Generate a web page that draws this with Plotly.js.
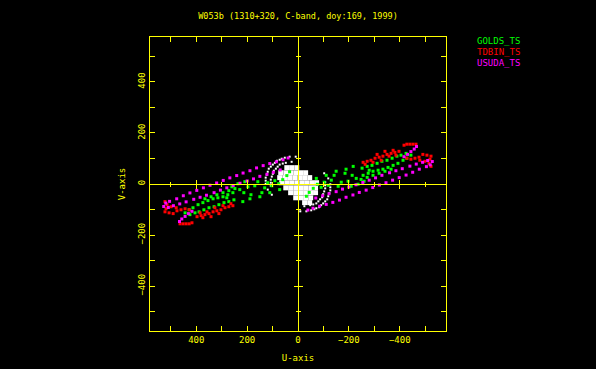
<!DOCTYPE html>
<html><head><meta charset="utf-8">
<script src="https://cdn.plot.ly/plotly-3.0.1.min.js"></script>
<style>html,body{margin:0;padding:0;background:#000;}#plot{width:596px;height:369px;}</style>
</head><body><div id="plot"></div>
<script>
const titleText = 'W053b (1310+320, C-band, doy:169, 1999)';
const xAxisLabel = 'U-axis';
const yAxisLabel = 'V-axis';
const stationNames = ['GOLDS_TS', 'TDBIN_TS', 'USUDA_TS'];
const stationColors = ['#00ff00', '#ff0000', '#ff00ff'];
const majorTickVals = [-400, -200, 0, 200, 400];
const majorTickText = ['\u2212400', '\u2212200', '0', '200', '400'];
const minorTickVals = [-500, -300, -100, 100, 300, 500];

// GOLDS_TS (green) uv points
const goldsU = [444,428,413,393,374,354,334,315,295,276,256,
  425,405,389,370,350,330,311,291,272,252,
  366,342,319,295,272,248,
  229,213,197,185,170,158,142,131,119,103,91,76,60,44,33,209,236,260,280,189,150,111,72,217,
  -444,-428,-413,-393,-374,-354,-334,-315,-295,-276,-256,
  -425,-405,-389,-370,-350,-330,-311,-291,-272,-252,
  -366,-342,-319,-295,-272,-248,
  -229,-213,-197,-185,-170,-158,-142,-131,-119,-103,-91,-76,-60,-44,-33,-209,-236,-260,-280,-189,-150,-111,-72,-217];
const goldsV = [-113,-101,-93,-81,-73,-65,-58,-54,-50,-42,-34,
  -120,-113,-109,-101,-93,-89,-81,-73,-69,-62,
  -58,-50,-42,-34,-26,-18,
  -22,-34,-11,-42,-7,9,-34,-15,5,-7,13,1,17,33,48,9,1,-11,-54,-58,-50,-34,-22,-69,
  113,101,93,81,73,65,58,54,50,42,34,
  120,113,109,101,93,89,81,73,69,62,
  58,50,42,34,26,18,
  22,34,11,42,7,-9,34,15,-5,7,-13,-1,-17,-33,-48,-9,-1,11,54,58,50,34,22,69];

// TDBIN_TS (red) uv points
const tdbinU = [523,515,519,523,507,491,476,460,444,428,499,479,
  464,452,440,428,417,
  397,381,366,350,334,319,303,287,272,256,385,358,327,295,264,374,342,311,
  -523,-515,-519,-523,-507,-491,-476,-460,-444,-428,-499,-479,
  -464,-452,-440,-428,-417,
  -397,-381,-366,-350,-334,-319,-303,-287,-272,-256,-385,-358,-327,-295,-264,-374,-342,-311];
const tdbinV = [-69,-81,-97,-109,-113,-116,-105,-101,-97,-101,-89,-93,
  -156,-156,-156,-156,-152,
  -128,-124,-120,-116,-109,-105,-101,-93,-89,-85,-113,-109,-93,-85,-77,-132,-128,-116,
  69,81,97,109,113,116,105,101,97,101,89,93,
  156,156,156,156,152,
  128,124,120,116,109,105,101,93,89,85,113,109,93,85,77,132,128,116];

// USUDA_TS (magenta) uv points
const usudaU = [520,505,477,451,425,398,372,346,320,294,268,241,216,189,163,137,111,85,59,39,
  510,490,465,440,410,385,360,330,305,280,255,228,200,175,150,122,97,70,
  528,466,457,444,431,417,
  -520,-505,-477,-451,-425,-398,-372,-346,-320,-294,-268,-241,-216,-189,-163,-137,-111,-85,-59,-39,
  -510,-490,-465,-440,-410,-385,-360,-330,-305,-280,-255,-228,-200,-175,-150,-122,-97,-70,
  -528,-466,-457,-444,-431,-417];
const usudaV = [-75,-68,-58,-46,-35,-25,-15,-5,4,14,24,33,43,52,63,72,80,87,95,102,
  -92,-85,-78,-70,-60,-52,-44,-34,-24,-15,-6,3,12,20,30,38,46,55,
  -88,-147,-137,-127,-116,-107,
  75,68,58,46,35,25,15,5,-4,-14,-24,-33,-43,-52,-63,-72,-80,-87,-95,-102,
  92,85,78,70,60,52,44,34,24,15,6,-3,-12,-20,-30,-38,-46,-55,
  88,147,137,127,116,107];

// central white cluster (dense core)
const coreU = [44,25,5,
  68,48,29,9,-11,-30,
  72,52,33,13,-7,-26,-46,
  64,44,25,5,-15,-34,-54,-73,
  48,29,9,-11,-30,-50,-69,
  29,9,-11,-30,-50,-69,
  9,-11,-30,-50,
  -26,-46];
const coreV = [64,64,64,
  44,44,44,44,44,44,
  25,25,25,25,25,25,25,
  5,5,5,5,5,5,5,5,
  -15,-15,-15,-15,-15,-15,-15,
  -34,-34,-34,-34,-34,-34,
  -54,-54,-54,-54,
  -73,-73];
// central white cluster (outer arcs)
const arcU = [127,127,127,123,119,115,107,99,91,83,72,64,52,33,9,
  -127,-127,-127,-123,-119,-115,-107,-99,-91,-83,-72,-64,-52,-33,-9,
  107,107,107,103,99,95,87,80,72,60,48,25,
  -107,-107,-107,-103,-99,-95,-87,-80,-72,-60,-48,-25,
  119,103,-119,-103];
const arcV = [1,13,25,36,48,60,68,76,83,91,95,99,103,107,107,
  -1,-13,-25,-36,-48,-60,-68,-76,-83,-91,-95,-99,-103,-107,-107,
  -7,5,17,29,40,52,60,68,76,80,83,87,
  7,-5,-17,-29,-40,-52,-60,-68,-76,-80,-83,-87,
  -22,-42,22,42];

const FONT = 'DejaVu Sans Mono';
const YEL = '#ffff00';
const XR = [582, -582];
const YR = [-576, 576];

function pts(u, v, color, size) {
  return {type: 'scatter', mode: 'markers', x: u, y: v, showlegend: false, hoverinfo: 'skip',
    marker: {symbol: 'square', size: size, color: color, line: {width: 0}}};
}

const traces = [
  pts(coreU, coreV, '#ffffff', 5),
  pts(arcU, arcV, '#ffffff', 2),
  pts(goldsU, goldsV, stationColors[0], 3),
  pts(tdbinU, tdbinV, stationColors[1], 3),
  pts(usudaU, usudaV, stationColors[2], 3),
  {type: 'scatter', x: [], y: [], xaxis: 'x2', yaxis: 'y', showlegend: false},
  {type: 'scatter', x: [], y: [], xaxis: 'x3', yaxis: 'y', showlegend: false},
  {type: 'scatter', x: [], y: [], xaxis: 'x', yaxis: 'y2', showlegend: false},
  {type: 'scatter', x: [], y: [], xaxis: 'x', yaxis: 'y3', showlegend: false}
];

function centerAxis(range, side, dir, line) {
  return {range: range, overlaying: side, anchor: 'free', position: 0.5, layer: 'above traces',
    showline: line, linecolor: YEL, linewidth: 1, zeroline: false, showgrid: false, showticklabels: false,
    tickmode: 'array', tickvals: majorTickVals, ticks: dir, ticklen: 4, tickwidth: 1, tickcolor: YEL,
    minor: {tickmode: 'array', tickvals: minorTickVals, ticks: dir, ticklen: 2, tickwidth: 1, tickcolor: YEL, showgrid: false}};
}

const tickFont = {family: FONT, size: 9, color: YEL};
const minorFrame = {tickmode: 'array', tickvals: minorTickVals, ticks: 'inside', ticklen: 3, tickwidth: 1, tickcolor: YEL, showgrid: false};

const layout = {
  width: 596, height: 369,
  paper_bgcolor: '#000', plot_bgcolor: '#000',
  margin: {l: 150, r: 150, t: 37, b: 38, pad: 0},
  showlegend: false,
  title: {text: titleText, font: {family: FONT, size: 8.5, color: YEL}, x: 0.5, xref: 'container',
    y: 1 - 16 / 369, yref: 'container', yanchor: 'middle'},
  xaxis: {range: XR, domain: [0, 1], showgrid: false, zeroline: false, layer: 'above traces',
    showline: true, linecolor: YEL, linewidth: 1, mirror: 'allticks',
    tickmode: 'array', tickvals: majorTickVals, ticktext: majorTickText,
    ticks: 'inside', ticklen: 5, tickwidth: 1, tickcolor: YEL, tickfont: tickFont, minor: minorFrame,
    title: {text: xAxisLabel, font: {family: FONT, size: 9, color: YEL}, standoff: 10}},
  yaxis: {range: YR, domain: [0, 1], showgrid: false, zeroline: false, layer: 'above traces',
    showline: true, linecolor: YEL, linewidth: 1, mirror: 'allticks',
    tickmode: 'array', tickvals: majorTickVals, ticktext: majorTickText, tickangle: -90,
    ticks: 'inside', ticklen: 5, tickwidth: 1, tickcolor: YEL, tickfont: tickFont, minor: minorFrame,
    title: {text: yAxisLabel, font: {family: FONT, size: 9, color: YEL}, standoff: 10}},
  xaxis2: centerAxis(XR, 'x', 'inside', true),
  xaxis3: centerAxis(XR, 'x', 'outside', false),
  yaxis2: centerAxis(YR, 'y', 'inside', true),
  yaxis3: centerAxis(YR, 'y', 'outside', false),
  annotations: stationNames.map((name, i) => ({
    text: name, xref: 'paper', yref: 'paper', x: (475 - 150) / 296, y: (331 - (41 + 11 * i)) / 294,
    xanchor: 'left', yanchor: 'middle', showarrow: false,
    font: {family: FONT, size: 9, color: stationColors[i]}
  }))
};

Plotly.newPlot('plot', traces, layout, {staticPlot: true, displayModeBar: false});
</script>
</body></html>
